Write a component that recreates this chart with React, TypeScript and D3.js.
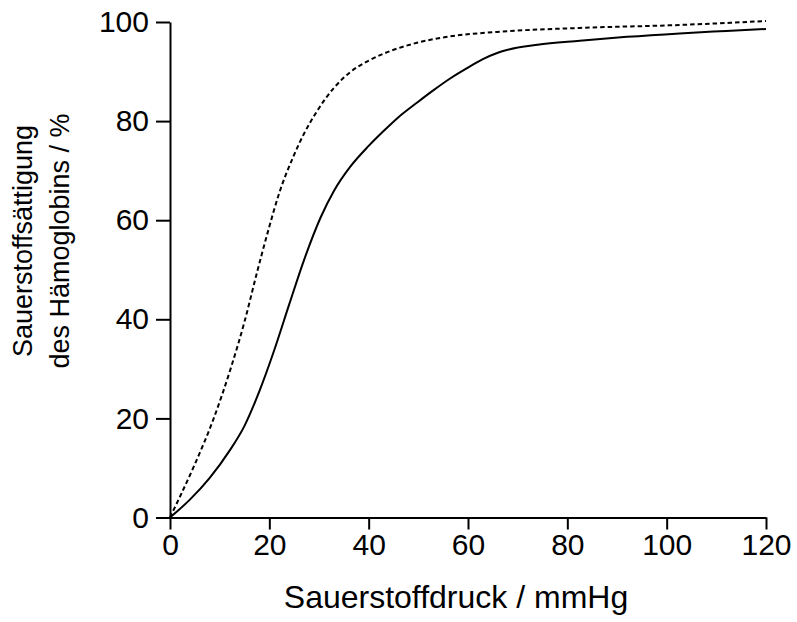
import React, { useEffect, useRef } from "react";
import * as d3 from "d3";

// Sauerstoffbindungskurven (Druck in mmHg, Sättigung in %)
const solidX = [0, 4, 8, 12, 15, 18, 21, 24, 27, 30.3, 33, 36.3, 40, 43, 46, 49.7, 53, 56.4, 60, 63, 66, 68, 74, 82.5, 92, 102.6, 112, 120];
const solidY = [0, 3.6, 8, 13.5, 18.5, 25.5, 33.8, 43, 52, 60.5, 65.9, 70.8, 75, 78, 80.8, 83.7, 86.2, 88.6, 90.8, 92.5, 93.8, 94.4, 95.4, 96.2, 97, 97.7, 98.2, 98.6];

const dashX = [0, 2, 4.8, 8.8, 12.2, 15, 17.4, 19.8, 22, 24.9, 27, 29.6, 33, 36.3, 40, 43, 49.7, 56.4, 65.8, 82.5, 102.6, 120];
const dashY = [0, 4.2, 10.3, 20, 30, 39.5, 49, 58, 65.5, 73, 77.5, 82, 86.7, 89.9, 92.2, 93.6, 95.8, 97.1, 98, 98.8, 99.4, 100.2];

const xTicks = [0, 20, 40, 60, 80, 100, 120];
const yTicks = [0, 20, 40, 60, 80, 100];

const xTitle = "Sauerstoffdruck / mmHg";
const yTitle = ["Sauerstoffsättigung", "des Hämoglobins / %"];

export default function App() {
    const svgRef = useRef<SVGSVGElement>(null);

    useEffect(() => {
        document.body.style.margin = "0";
        const width = 797;
        const height = 622;
        const font = "'Liberation Sans', Arial, sans-serif";

        const svg = d3.select(svgRef.current);
        svg.selectAll("*").remove();
        svg.attr("width", width).attr("height", height);

        const x = d3.scaleLinear().domain([0, 120]).range([170, 766]);
        const y = d3.scaleLinear().domain([0, 100]).range([517.5, 22]);

        // X-Achse
        const gx = svg.append("g")
            .attr("transform", `translate(0, ${y(0)})`)
            .call(d3.axisBottom(x).tickValues(xTicks).tickSize(12).tickSizeOuter(0).tickPadding(4));
        gx.selectAll("path, line").attr("stroke", "#000").attr("stroke-width", 2);
        gx.selectAll("text")
            .attr("font-family", font)
            .attr("font-size", 30)
            .attr("fill", "#000");

        // Y-Achse
        const gy = svg.append("g")
            .attr("transform", `translate(${x(0)}, 0)`)
            .call(d3.axisLeft(y).tickValues(yTicks).tickSize(14).tickSizeOuter(0).tickPadding(7));
        gy.selectAll("path, line").attr("stroke", "#000").attr("stroke-width", 2);
        gy.selectAll("text")
            .attr("font-family", font)
            .attr("font-size", 30)
            .attr("fill", "#000");

        const line = d3.line<[number, number]>()
            .x(d => x(d[0]))
            .y(d => y(d[1]))
            .curve(d3.curveMonotoneX);

        const solid = solidX.map((v, i) => [v, solidY[i]] as [number, number]);
        const dashed = dashX.map((v, i) => [v, dashY[i]] as [number, number]);

        svg.append("path")
            .attr("d", line(dashed))
            .attr("fill", "none")
            .attr("stroke", "#000")
            .attr("stroke-width", 2)
            .attr("stroke-dasharray", "4.5,3");

        svg.append("path")
            .attr("d", line(solid))
            .attr("fill", "none")
            .attr("stroke", "#000")
            .attr("stroke-width", 2);

        // Achsentitel
        svg.append("text")
            .attr("x", 456)
            .attr("y", 608)
            .attr("text-anchor", "middle")
            .attr("font-family", font)
            .attr("font-size", 32)
            .attr("fill", "#000")
            .text(xTitle);

        const yt = svg.append("text")
            .attr("transform", "translate(0, 241) rotate(-90)")
            .attr("text-anchor", "middle")
            .attr("font-family", font)
            .attr("font-size", 27)
            .attr("fill", "#000");
        yt.append("tspan").attr("x", 0).attr("y", 32).text(yTitle[0]);
        yt.append("tspan").attr("x", 0).attr("y", 69).text(yTitle[1]);
    }, []);

    return <svg ref={svgRef} style={{ display: "block" }}></svg>;
}
